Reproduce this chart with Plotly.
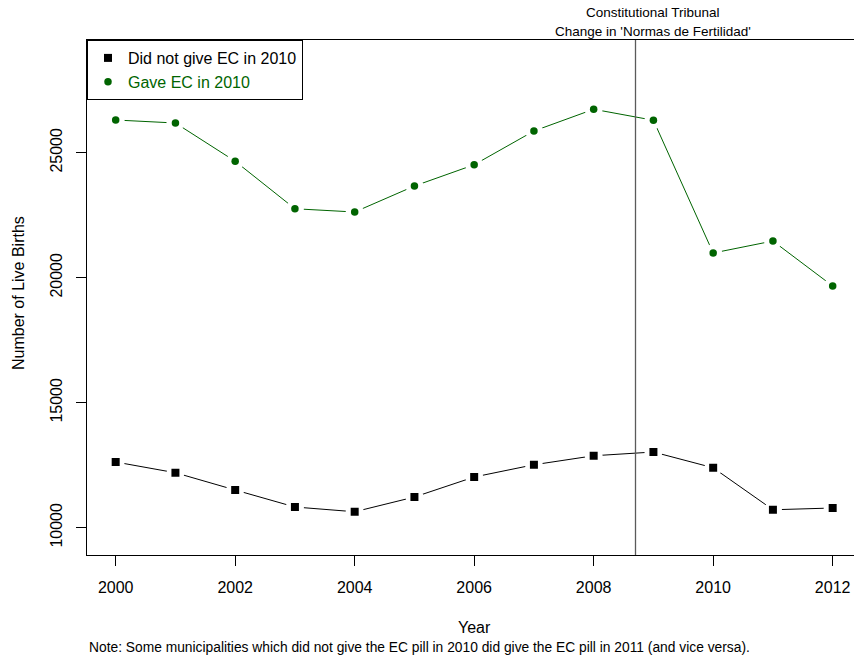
import plotly.graph_objects as go

# Annual live births by municipality group
years = [2000, 2001, 2002, 2003, 2004, 2005, 2006, 2007, 2008, 2009, 2010, 2011, 2012]
no_ec_births = [12630, 12200, 11510, 10830, 10640, 11230, 12030, 12520, 12880, 13030, 12400, 10720, 10790]
ec_births = [26310, 26190, 24660, 22760, 22630, 23670, 24520, 25870, 26740, 26300, 20990, 21470, 19670]

series_names = ["Did not give EC in 2010", "Gave EC in 2010"]
ruling_year = 2008.7
x_ticks = [2000, 2002, 2004, 2006, 2008, 2010, 2012]
y_ticks = [10000, 15000, 20000, 25000]

FONT = "Liberation Sans, Arial, Helvetica, sans-serif"
GREEN = "#006400"

fig = go.Figure()


def add_series(y, color, symbol, size, label_html):
    # connecting line
    fig.add_trace(go.Scatter(x=years, y=y, mode="lines",
                             line=dict(color=color, width=1),
                             showlegend=False, hoverinfo="skip"))
    # white halo leaving a gap between line and point
    fig.add_trace(go.Scatter(x=years, y=y, mode="markers",
                             marker=dict(color="white", size=18, symbol="circle",
                                         line=dict(width=0)),
                             showlegend=False, hoverinfo="skip"))
    # points
    fig.add_trace(go.Scatter(x=years, y=y, mode="markers",
                             marker=dict(color=color, size=size, symbol=symbol,
                                         line=dict(width=0)),
                             name=label_html))


add_series(no_ec_births, "black", "square", 8, series_names[0])
add_series(ec_births, GREEN, "circle", 7.5,
           f"<span style='color:{GREEN}'>{series_names[1]}</span>")

# ruling marker
fig.add_shape(type="line", xref="x", yref="paper", x0=ruling_year, x1=ruling_year,
              y0=0, y1=1, line=dict(color="rgb(90,90,90)", width=1.3), layer="above")

annotations = [
    dict(text="Constitutional Tribunal", x=2009, xref="x", y=(555 - 12.7) / 515, yref="paper",
         xanchor="center", yanchor="middle", showarrow=False,
         font=dict(size=13.5, color="black", family=FONT)),
    dict(text="Change in 'Normas de Fertilidad'", x=2009, xref="x", y=(555 - 31.7) / 515,
         yref="paper", xanchor="center", yanchor="middle", showarrow=False,
         font=dict(size=13.5, color="black", family=FONT)),
    dict(text="Year", x=2006, xref="x", y=(555 - 627) / 515, yref="paper",
         xanchor="center", yanchor="middle", showarrow=False,
         font=dict(size=16, color="black", family=FONT)),
    dict(text="Number of Live Births", x=(18 - 87) / 767, xref="paper", y=(555 - 293) / 515,
         yref="paper", xanchor="center", yanchor="middle", textangle=-90, showarrow=False,
         font=dict(size=16, color="black", family=FONT)),
    dict(text="Note: Some municipalities which did not give the EC pill in 2010 did give the EC pill in 2011 (and vice versa).",
         x=0, xref="paper", y=(555 - 647) / 515, yref="paper",
         xanchor="left", yanchor="middle", showarrow=False,
         font=dict(size=13.8, color="black", family=FONT)),
]

fig.update_layout(
    width=854, height=661,
    margin=dict(l=87, r=0, t=40, b=106),
    paper_bgcolor="white", plot_bgcolor="white",
    font=dict(family=FONT, size=16, color="black"),
    annotations=annotations,
    showlegend=True,
    legend=dict(x=0, y=1, xanchor="left", yanchor="top",
                bordercolor="black", borderwidth=1, bgcolor="white",
                font=dict(size=16, family=FONT, color="black"),
                itemwidth=30, tracegroupgap=0),
    xaxis=dict(range=[1999.52, 2012.357], tickvals=x_ticks, ticktext=[str(t) for t in x_ticks],
               showgrid=False, zeroline=False, showline=True, linecolor="black", linewidth=1,
               mirror=True, ticks="outside", ticklen=10, tickcolor="black", tickwidth=1,
               tickfont=dict(size=16, family=FONT, color="black"), ticklabelstandoff=8),
    yaxis=dict(range=[8910, 29510], tickvals=y_ticks, ticktext=[str(t) for t in y_ticks],
               showgrid=False, zeroline=False, showline=True, linecolor="black", linewidth=1,
               ticks="outside", ticklen=10, tickcolor="black", tickwidth=1, tickangle=-90,
               tickfont=dict(size=16, family=FONT, color="black"), ticklabelstandoff=8),
)

fig.write_html("out.html")
